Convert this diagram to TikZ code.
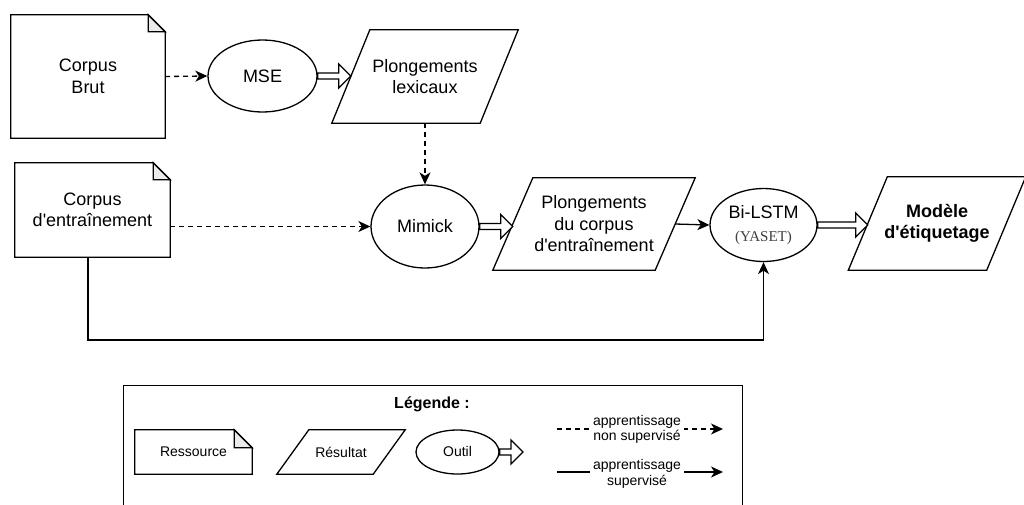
\documentclass[tikz,border=0pt]{standalone}
\usepackage{fontspec}
\setmainfont{Liberation Sans}[Ligatures=TeXOff]
\newfontfamily\yasetfont{Liberation Serif}
\usetikzlibrary{shapes.geometric,arrows.meta,calc}
\definecolor{foldgray}{HTML}{EBEBEB}
\tikzset{
  shp/.style={line width=1.3pt, draw=black, line join=miter},
  arr/.style={-{Stealth[length=12pt,width=11pt,inset=3.5pt]}},
  dline/.style={shp, dash pattern=on 5pt off 4pt},
  mainfont/.style={font=\fontsize{18pt}{21.5pt}\selectfont},
  boldfont/.style={font=\fontsize{18pt}{21.5pt}\selectfont\bfseries},
  smallfont/.style={font=\fontsize{14pt}{15.5pt}\selectfont},
  ell/.style={ellipse, shp, inner sep=0pt},
  box/.style={rectangle, inner sep=0pt, align=center}
}
\newcommand\docshape[2]{%
  \draw[shp] (#1.north west) -- ([xshift=-#2]#1.north east) -- ([yshift=-#2]#1.north east) -- (#1.south east) -- (#1.south west) -- cycle;
  \draw[shp, fill=foldgray] ([xshift=-#2]#1.north east) -- ([xshift=-#2,yshift=-#2]#1.north east) -- ([yshift=-#2]#1.north east) -- cycle;}
\newcommand\parashape[2]{%
  \draw[shp] ([xshift=-#2]#1.south west) -- ([xshift=-#2]#1.south east) -- ([xshift=#2]#1.north east) -- ([xshift=#2]#1.north west) -- cycle;}
\newcommand\hollowarrow[2]{%
  \draw[shp, fill=white] let \p1=(#1), \p2=(#2) in
    (\x1,\y1+3pt) -- (\x2-12pt,\y1+3pt) -- (\x2-12pt,\y1+12pt) -- (\x2,\y1) --
    (\x2-12pt,\y1-12pt) -- (\x2-12pt,\y1-3pt) -- (\x1,\y1-3pt) -- cycle;}
\begin{document}
\begin{tikzpicture}[x=1pt,y=-1pt, every node/.style={align=center}]
\useasboundingbox (0,0) rectangle (1024,504);
\fill[white] (0,0) rectangle (1024,504);

% resources
\node[box, mainfont, minimum width=154pt, minimum height=123pt] (brut) at (88,76.5) {Corpus\\Brut};
\docshape{brut}{17pt}
\node[box, mainfont, minimum width=155pt, minimum height=94pt] (ent) at (92.5,210) {Corpus\\d'entraînement};
\docshape{ent}{17pt}

% tools
\node[ell, mainfont, minimum width=109pt, minimum height=72pt] (mse) at (262.5,76) {MSE};
\node[ell, mainfont, minimum width=108pt, minimum height=83pt] (mim) at (425,226.5) {Mimick};
\node[ell, mainfont, minimum width=107pt, minimum height=73pt] (bil) at (763.5,225)
  {Bi-LSTM\\[1pt]{\yasetfont\fontsize{15pt}{15pt}\selectfont\color{black!75}(YASET)}};

% results
\node[box, mainfont, minimum width=148pt, minimum height=93pt] (lex) at (425,76.5) {Plongements\\lexicaux};
\parashape{lex}{19pt}
\node[box, mainfont, minimum width=162pt, minimum height=92pt] (pl2) at (594,224) {Plongements\\du corpus\\d'entraînement};
\parashape{pl2}{20pt}
\node[box, boldfont, minimum width=138pt, minimum height=93pt] (mod) at (937,223.5) {Modèle\\d'étiquetage};
\parashape{mod}{19.5pt}

% connectors
\draw[dline, arr] (brut.east) -- (mse.west);
\hollowarrow{mse.east}{lex.west}
\draw[dline, arr] (lex.south) -- (mim.north);
\draw[dline, arr] (ent.east |- mim.west) -- (mim.west);
\hollowarrow{mim.east}{pl2.west}
\draw[shp, arr] (pl2.east) -- (bil.west);
\hollowarrow{bil.east}{mod.west}
\coordinate (entb) at (88,257);
\coordinate (turn) at (88,340);
\draw[shp, arr] (entb) -- (turn) -| (bil.south);

% legend
\node[shp, rectangle, minimum width=619pt, minimum height=125pt, anchor=north west] (leg) at (123,385) {};
\node[font=\bfseries\fontsize{16pt}{19pt}\selectfont] (legt) at (432,404) {Légende :};
\node[box, smallfont, minimum width=117pt, minimum height=44pt] (res) at (193.5,452) {Ressource};
\docshape{res}{18pt}
\node[box, smallfont, minimum width=96pt, minimum height=44pt] (rsl) at (341,452) {Résultat};
\parashape{rsl}{16pt}
\node[ell, smallfont, minimum width=83pt, minimum height=44pt] (out) at (457.5,452) {\raisebox{2pt}{Outil}};
\coordinate (otip) at (523,452);
\hollowarrow{out.east}{otip}

\coordinate (d1) at (557,429);
\coordinate (d2) at (723,429);
\draw[dline, arr] (d1) -- (d2);
\node[smallfont, fill=white, inner xsep=3pt, inner ysep=0pt] (dlab) at (637,429.5) {apprentissage\\non supervisé};
\coordinate (s1) at (557,472);
\coordinate (s2) at (723,472);
\draw[shp, arr] (s1) -- (s2);
\node[smallfont, fill=white, inner xsep=3pt, inner ysep=0pt] (slab) at (637,474) {apprentissage\\supervisé};
\end{tikzpicture}
\end{document}
